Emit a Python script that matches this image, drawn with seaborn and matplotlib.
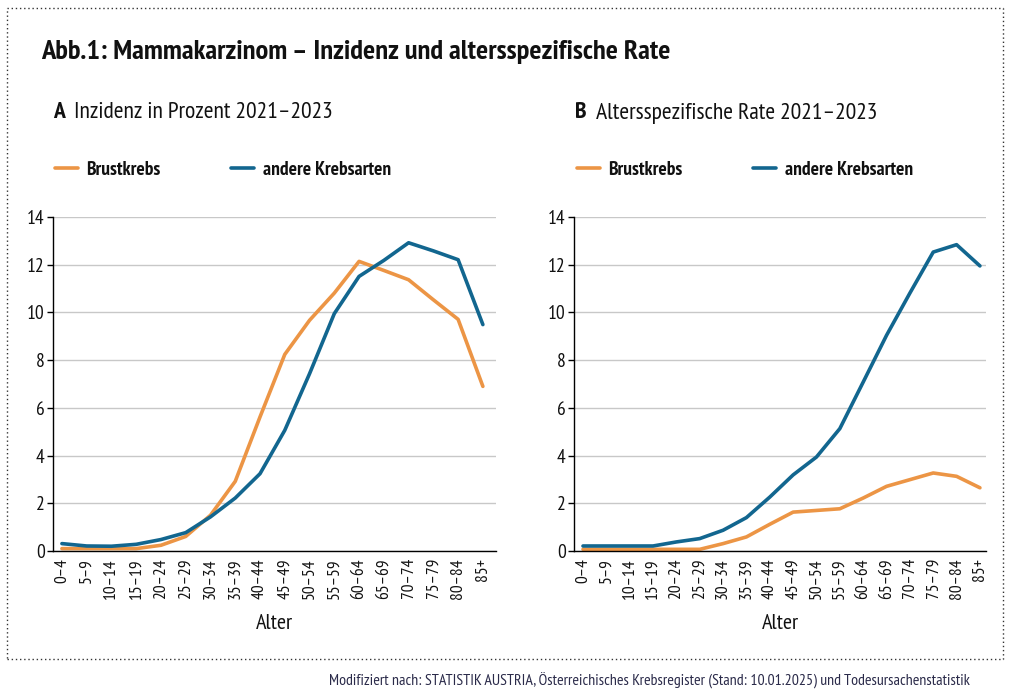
import matplotlib
matplotlib.use("Agg")
import matplotlib.pyplot as plt
import matplotlib.patches as mpatches
import seaborn as sns
import pandas as pd
from matplotlib import font_manager

sns.set_theme(style="white")
names = {f.name for f in font_manager.fontManager.ttflist}
FONT = "DejaVu Sans"
for cand in ["Myriad Pro Cond", "Myriad Pro", "PT Sans Narrow", "Fira Sans Condensed",
             "Roboto Condensed", "Open Sans Condensed", "IBM Plex Sans Condensed",
             "Liberation Sans Narrow"]:
    if cand in names:
        FONT = cand
        break
plt.rcParams['font.family'] = [FONT, 'DejaVu Sans']

ages = ["0–4", "5–9", "10–14", "15–19", "20–24", "25–29", "30–34", "35–39", "40–44",
        "45–49", "50–54", "55–59", "60–64", "65–69", "70–74", "75–79", "80–84", "85+"]

inz_brust = [0.10, 0.10, 0.10, 0.10, 0.24, 0.61, 1.50, 2.92, 5.62, 8.24, 9.67, 10.81,
             12.14, 11.76, 11.37, 10.53, 9.71, 6.90]
inz_andere = [0.31, 0.21, 0.20, 0.28, 0.48, 0.77, 1.43, 2.22, 3.24, 5.06, 7.43, 9.95,
              11.51, 12.18, 12.92, 12.58, 12.21, 9.49]

rate_brust = [0.07, 0.07, 0.07, 0.07, 0.07, 0.07, 0.31, 0.59, 1.12, 1.63, 1.70, 1.77,
              2.22, 2.71, 2.99, 3.27, 3.13, 2.65]
rate_andere = [0.21, 0.21, 0.21, 0.21, 0.38, 0.52, 0.87, 1.40, 2.26, 3.19, 3.94, 5.13,
               7.08, 9.04, 10.81, 12.53, 12.84, 11.95]

series = ["Brustkrebs", "andere Krebsarten"]
colors = {"Brustkrebs": "#EC9545", "andere Krebsarten": "#12668F"}
yticks = [0, 2, 4, 6, 8, 10, 12, 14]

def long_df(a, b):
    return pd.DataFrame({
        "Alter": ages * 2,
        "Wert": a + b,
        "Serie": [series[0]] * len(ages) + [series[1]] * len(ages),
    })

fig = plt.figure(figsize=(10.09, 6.99), dpi=100)
fig.patch.set_facecolor("white")

border = mpatches.Rectangle((7 / 1009, 1 - 659 / 699), (1003 - 7) / 1009, (659 - 8) / 699,
                            transform=fig.transFigure, fill=False, edgecolor="#333333",
                            linestyle=(0, (1, 2)), linewidth=1.0)
fig.patches.append(border)

fig.text(41 / 1009, 1 - 52 / 699, "Abb.1: Mammakarzinom – Inzidenz und altersspezifische Rate",
         fontsize=20.5, fontweight="bold", va="center", ha="left", color="#111111")

panels = [
    (53, 496, -0.36, 17.53, inz_brust, inz_andere, "A", "Inzidenz in Prozent 2021–2023", 53),
    (574, 986, -0.385, 17.26, rate_brust, rate_andere, "B", "Altersspezifische Rate 2021–2023", 575),
]

for (x0, x1, xl, xr, a, b, letter, sub, tx) in panels:
    ax = fig.add_axes([x0 / 1009, 1 - 551 / 699, (x1 - x0) / 1009, (551 - 217) / 699])
    df = long_df(a, b)
    sns.lineplot(data=df, x="Alter", y="Wert", hue="Serie", palette=colors,
                 linewidth=2.6, ax=ax, sort=False, legend=True)
    ax.set_xlim(xl, xr)
    ax.set_ylim(0, 14)
    ax.set_yticks(yticks)
    ax.set_yticklabels([str(v) for v in yticks], fontsize=14)
    ax.yaxis.grid(True, color="#c8c8c8", linewidth=1.0)
    ax.xaxis.grid(False)
    ax.set_axisbelow(True)
    for s in ["top", "right"]:
        ax.spines[s].set_visible(False)
    for s in ["left", "bottom"]:
        ax.spines[s].set_color("black")
        ax.spines[s].set_linewidth(1.0)
    ax.tick_params(axis="y", which="both", left=True, length=4, width=1, color="black",
                   pad=2, labelsize=14, labelcolor="#111111")
    ax.tick_params(axis="x", which="both", bottom=False, length=0, pad=5, labelsize=12.5,
                   labelrotation=90, labelcolor="#111111")
    ax.set_ylabel("")
    ax.set_xlabel("Alter", fontsize=16, color="#111111", labelpad=11)
    ax.set_facecolor("white")
    handles, labels = ax.get_legend_handles_labels()
    ax.legend(handles, labels, loc="center left",
              bbox_to_anchor=((tx - 16) / 1009, 1 - 170 / 699), bbox_transform=fig.transFigure,
              ncol=2, frameon=False, handlelength=1.2, handletextpad=0.45,
              columnspacing=3.6, prop={"family": [FONT, "DejaVu Sans"], "size": 14,
                                       "weight": "semibold"})
    for t in ax.get_legend().get_texts():
        t.set_color("#111111")
    fig.text(tx / 1009, 1 - 113 / 699, letter, fontsize=17, fontweight="bold",
             va="center", ha="left", color="#111111")
    fig.text((tx + 21) / 1009, 1 - 113 / 699, sub, fontsize=17,
             va="center", ha="left", color="#111111")

fig.text(970 / 1009, 1 - 681 / 699,
         "Modifiziert nach: STATISTIK AUSTRIA, Österreichisches Krebsregister (Stand: 10.01.2025) und Todesursachenstatistik",
         fontsize=11.4, ha="right", va="center", color="#2b2b4a")

fig.savefig("out.png", dpi=100, facecolor="white")
